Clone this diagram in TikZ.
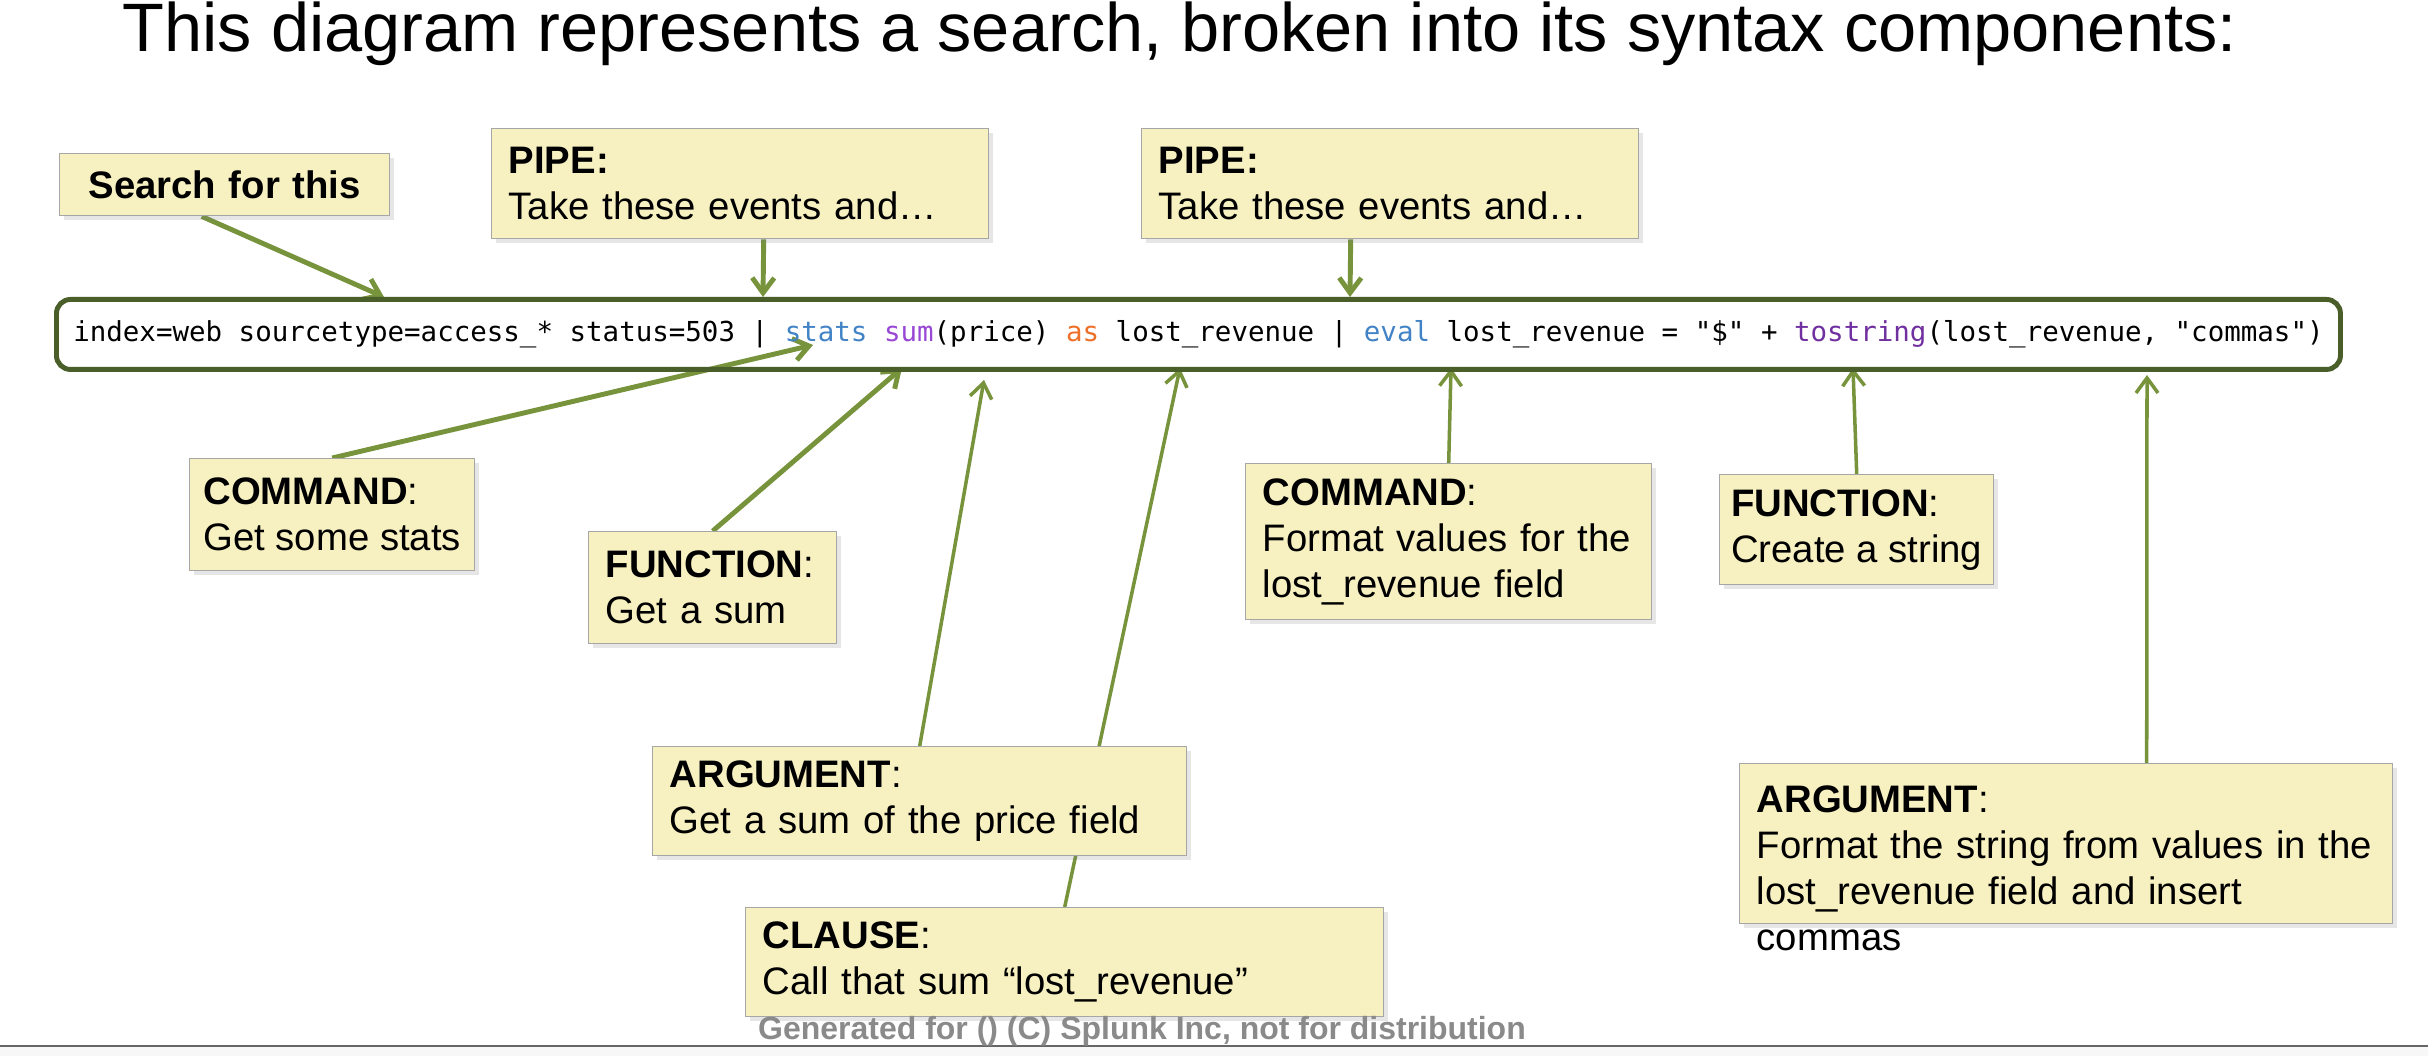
\documentclass[tikz,border=0pt]{standalone}
\usepackage{fontspec}
\setmainfont{Liberation Sans}
\setmonofont{DejaVu Sans Mono}
\usetikzlibrary{arrows.meta,shadows}

\definecolor{barline}{RGB}{74,94,42}
\definecolor{ptrgreen}{RGB}{119,147,60}
\definecolor{notefill}{RGB}{247,240,193}
\definecolor{kwblue}{RGB}{66,131,198}
\definecolor{fnpurple}{RGB}{152,72,212}
\definecolor{fndark}{RGB}{112,48,160}
\definecolor{kworange}{RGB}{237,112,40}
\definecolor{footgray}{RGB}{138,138,138}

\pgfdeclarelayer{back}
\pgfsetlayers{back,main}

\tikzset{
  note/.style={draw=gray!70, line width=0.4pt, fill=notefill,
    drop shadow={shadow xshift=0.4mm, shadow yshift=-0.4mm, opacity=0.2},
    anchor=north west, align=left, inner xsep=1.7mm, inner ysep=0pt,
    font=\fontsize{10.9pt}{13.1pt}\selectfont},
  notetext/.style={anchor=north west, align=left, inner xsep=1.7mm,
    font=\fontsize{10.9pt}{13.1pt}\selectfont},
  querybar/.style={draw=barline, line width=1.4pt, rounded corners=1.4mm,
    anchor=north west, inner xsep=0pt,
    font=\ttfamily\fontsize{7.82pt}{9pt}\selectfont},
  ptr/.style={draw=ptrgreen, line width=1.4pt,
    -{Straight Barb[length=1.5mm, width=2.2mm]}},
  ptrthin/.style={ptr, line width=1pt},
}

\begin{document}
\begin{tikzpicture}[x=0.1mm, y=-0.1mm]
  \useasboundingbox (0,0) rectangle (2428,1056);

  % title
  \node[anchor=base west, inner sep=0pt, font=\fontsize{19.5pt}{23pt}\selectfont] (title) at (122,52)
    {This diagram represents a search, broken into its syntax components:};

  % the search string
  \node[querybar, minimum width=228.4mm, minimum height=7mm] (query) at (54,297)
    {index=web sourcetype=access\_* status=503 | \textcolor{kwblue}{stats} \textcolor{fnpurple}{sum}(price) \textcolor{kworange}{as} lost\_revenue | \textcolor{kwblue}{eval} lost\_revenue = "\$" + \textcolor{fndark}{tostring}(lost\_revenue, "commas")};

  % where the pointers land
  \coordinate (atIndex) at (384,297);
  \coordinate (atPipeA) at (763,297);
  \coordinate (atPipeB) at (1350,297);
  \coordinate (atStats) at (813,345);
  \coordinate (atSum) at (902,368);
  \coordinate (atPrice) at (984,380);
  \coordinate (atLost) at (1180,368);
  \coordinate (atEval) at (1451,368);
  \coordinate (atTostring) at (1853,368);
  \coordinate (atCommas) at (2147,375);

  % notes above
  \node[note, text width=29.6mm, minimum height=6.2mm, align=center] (search) at (59,153) {\textbf{Search for this}};
  \node[note, text width=46.3mm, minimum height=11mm] (pipeA) at (491,128) {\textbf{PIPE:}\\Take these events and…};
  \node[note, text width=46.3mm, minimum height=11mm] (pipeB) at (1141,128) {\textbf{PIPE:}\\Take these events and…};

  % notes below
  \node[note, inner xsep=0pt, minimum width=28.5mm, minimum height=11.2mm] (cmdA) at (189,458) {\textbf{COMMAND}:\\Get some stats};
  \node[note, text width=21.4mm, minimum height=11.2mm] (funA) at (588,531) {\textbf{FUNCTION}:\\Get a sum};
  \node[note, text width=50mm, minimum height=10.9mm] (argA) at (652,746) {\textbf{ARGUMENT}:\\Get a sum of the price field};
  \node[note, text width=60.4mm, minimum height=10.9mm] (clause) at (745,907) {\textbf{CLAUSE}:\\Call that sum “lost\_revenue”};
  \node[note, text width=37.2mm, minimum height=15.6mm] (cmdB) at (1245,463) {\textbf{COMMAND}:\\Format values for the\\lost\_revenue field};
  \node[note, inner xsep=0pt, minimum width=27.4mm, minimum height=11mm] (funB) at (1719,474) {\textbf{FUNCTION}:\\Create a string};
  \node[note, text width=61.9mm, minimum height=16mm] (argB) at (1739,763) {};
  \node[notetext, text width=61.9mm, inner ysep=6.3pt] (argBtext) at (argB.north west)
    {\textbf{ARGUMENT}:\\Format the string from values in the\\lost\_revenue field and insert\\commas};

  % pointers, kept behind the notes
  \begin{pgfonlayer}{back}
    \draw[ptr] ([xshift=-2.3mm]search.south) -- (atIndex);
    \draw[ptr] ([xshift=2.35mm]pipeA.south) -- (atPipeA);
    \draw[ptr] ([xshift=-3.95mm]pipeB.south) -- (atPipeB);
    \draw[ptr] (cmdA.north) -- (atStats);
    \draw[ptr] (funA.north) -- (atSum);
    \draw[ptrthin] (argA.north) -- (atPrice);
    \draw[ptrthin] (clause.north) -- (atLost);
    \draw[ptrthin] (cmdB.north) -- (atEval);
    \draw[ptrthin] (funB.north) -- (atTostring);
    \draw[ptrthin] ([xshift=8.05mm]argB.north) -- (atCommas);
  \end{pgfonlayer}

  % footer
  \fill[gray!6] (0,1046) rectangle (2428,1056);
  \draw[gray!80!black, line width=0.6pt] (0,1046) -- (2428,1046);
  \node[anchor=base, inner sep=0pt, text=footgray, font=\bfseries\fontsize{9.1pt}{11pt}\selectfont] (footer) at (1142,1039)
    {Generated for () (C) Splunk Inc, not for distribution};
\end{tikzpicture}
\end{document}
